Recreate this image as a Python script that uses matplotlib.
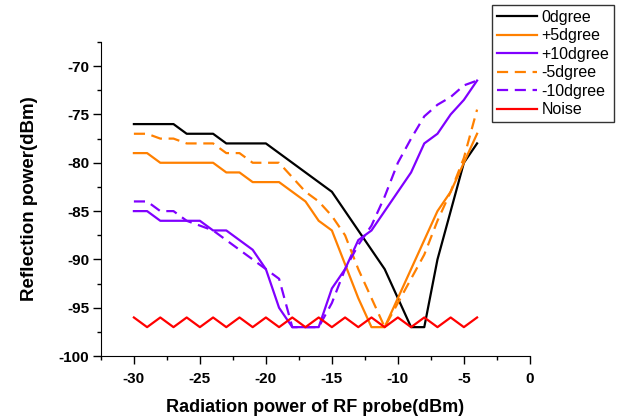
import matplotlib
matplotlib.use('Agg')
import matplotlib.pyplot as plt

plt.rcParams['font.family'] = ['Liberation Sans', 'DejaVu Sans']
plt.rcParams['axes.unicode_minus'] = False

x = list(range(-30, -3))

deg0 = [-76, -76, -76, -76, -77, -77, -77, -78, -78, -78, -78, -79, -80, -81, -82, -83,
        -85, -87, -89, -91, -94, -97, -97, -90, -85, -80, -78]
plus5 = [-79, -79, -80, -80, -80, -80, -80, -81, -81, -82, -82, -82, -83, -84, -86, -87,
         -90.5, -94, -97, -97, -94, -91, -88, -85, -83, -80, -77]
plus10 = [-85, -85, -86, -86, -86, -86, -87, -87, -88, -89, -91, -95, -97, -97, -97, -93,
          -91, -88, -87, -85, -83, -81, -78, -77, -75, -73.5, -71.5]
minus5 = [-77, -77, -77.5, -77.5, -78, -78, -78, -79, -79, -80, -80, -80, -81.5, -83, -84, -85.5,
          -87.5, -91, -94, -97, -94.5, -92, -89.5, -86, -83, -79.5, -74.5]
minus10 = [-84, -84, -85, -85, -86, -86.5, -87, -88, -89, -90, -91, -92, -97, -97, -97, -94.5,
           -91, -88.5, -86.5, -83.5, -80, -77.5, -75.2, -74, -73.2, -72, -71.5]
noise = [-96, -97] * 13 + [-96]

orange = '#FF8000'
purple = '#8000FF'

fig = plt.figure(figsize=(6.19, 4.19), dpi=100)
ax = fig.add_axes([0.163, 0.150, 0.693, 0.750])

ax.plot(x, deg0, color='black', lw=1.6, label='0dgree')
ax.plot(x, plus5, color=orange, lw=1.6, label='+5dgree')
ax.plot(x, plus10, color=purple, lw=1.6, label='+10dgree')
ax.plot(x, minus5, color=orange, lw=1.6, ls=(0, (5, 3)), label='-5dgree')
ax.plot(x, minus10, color=purple, lw=1.6, ls=(0, (5, 3)), label='-10dgree')
ax.plot(x, noise, color='red', lw=1.6, label='Noise')

ax.set_xlim(-32.4, 0)
ax.set_ylim(-100, -67.5)
ax.set_xticks([-30, -25, -20, -15, -10, -5, 0])
ax.set_xticks([-32.5, -27.5, -22.5, -17.5, -12.5, -7.5, -2.5], minor=True)
ax.set_yticks([-100, -95, -90, -85, -80, -75, -70])
ax.set_yticks([-97.5, -92.5, -87.5, -82.5, -77.5, -72.5, -67.5], minor=True)
ax.spines['top'].set_visible(False)
ax.spines['right'].set_visible(False)
ax.tick_params(which='major', direction='out', length=5.5, width=1, labelsize=11, pad=3)
ax.tick_params(which='minor', direction='out', length=3, width=1)
ax.tick_params(axis='x', which='major', pad=6)
for lab in ax.get_xticklabels() + ax.get_yticklabels():
    lab.set_fontweight('bold')

ax.set_xlabel('Radiation power of RF probe(dBm)', fontsize=13, fontweight='bold', labelpad=9)
ax.set_ylabel('Reflection power(dBm)', fontsize=13.5, fontweight='bold', labelpad=15)

leg = fig.legend(loc='upper right', bbox_to_anchor=(0.992, 0.988), fontsize=11.5,
                 frameon=True, fancybox=False, edgecolor='black', handlelength=2.5,
                 handletextpad=0.3, labelspacing=0.22, borderpad=0.3, borderaxespad=0)
leg.get_frame().set_linewidth(1)

fig.savefig('out.png', dpi=100)
